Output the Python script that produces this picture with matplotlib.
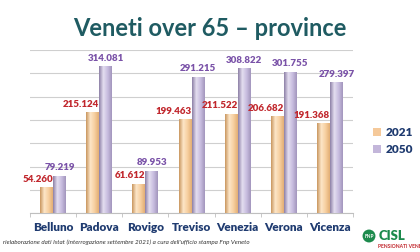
import numpy as np
import matplotlib
matplotlib.use("Agg")
import matplotlib.pyplot as plt
from matplotlib.colors import LinearSegmentedColormap

# ---------------------------------------------------------
# Data
# ---------------------------------------------------------
provinces = ["Belluno", "Padova", "Rovigo", "Treviso", "Venezia", "Verona", "Vicenza"]
v2021 = [54260, 215124, 61612, 199463, 211522, 206682, 191368]
v2050 = [79219, 314081, 89953, 291215, 308822, 301755, 279397]
series_names = ["2021", "2050"]

plt.rcParams["font.family"] = ["Lato", "DejaVu Sans"]

peach = LinearSegmentedColormap.from_list(
    "peach", ["#c9975f", "#fde6c8", "#f7cfa0", "#e2ae74"])
lav = LinearSegmentedColormap.from_list(
    "lav", ["#8d80a6", "#e4def0", "#c8bddf", "#a396bd"])


def fmt(v):
    return f"{v:,.0f}".replace(",", ".")


# ---------------------------------------------------------
# Figure
# ---------------------------------------------------------
fig = plt.figure(figsize=(4.2, 2.52), dpi=100)
ax = fig.add_axes([30 / 420, 1 - 213.3 / 252, 323 / 420, (213.3 - 50) / 252])

x = np.arange(len(provinces))
w = 0.28
grad = np.linspace(0, 1, 64).reshape(1, -1)

b1 = ax.bar(x - w / 2, v2021, w, color="#f5c99a", zorder=2)
b2 = ax.bar(x + w / 2, v2050, w, color="#c3b6da", zorder=2)

# cylinder-like shading
for bars, cmap in [(b1, peach), (b2, lav)]:
    for p in bars:
        x0, y0 = p.get_x(), p.get_y()
        ax.imshow(grad, cmap=cmap, aspect="auto", zorder=3,
                  extent=[x0, x0 + p.get_width(), y0, y0 + p.get_height()])

for i, v in enumerate(v2021):
    ax.annotate(fmt(v), xy=(x[i], v), xytext=(0, 3), textcoords="offset points",
                ha="right", va="bottom", color="#c1272d", fontsize=7,
                fontweight="heavy")
for i, v in enumerate(v2050):
    ax.annotate(fmt(v), xy=(x[i] + w / 2, v), xytext=(0, 3), textcoords="offset points",
                ha="center", va="bottom", color="#7a52a8", fontsize=7,
                fontweight="heavy")

ax.set_xlim(-0.5, len(provinces) - 0.5)
ax.set_ylim(0, 350000)
ax.set_yticks(np.arange(0, 350001, 50000))
ax.yaxis.grid(True, color="#cfcfcf", lw=0.8, zorder=0)
ax.set_axisbelow(True)
ax.tick_params(axis="y", length=0, labelleft=False)

ax.set_xticks(x)
ax.set_xticklabels(provinces, fontsize=8.5, fontweight="heavy", color="#1f3b70")
ax.tick_params(axis="x", length=0, pad=6)
ax.set_xticks(np.arange(-0.5, len(provinces)), minor=True)
ax.tick_params(axis="x", which="minor", length=3, color="#bfbfbf")

for s in ["top", "right", "left"]:
    ax.spines[s].set_visible(False)
ax.spines["bottom"].set_color("#bfbfbf")

leg = ax.legend([b1, b2], series_names, loc="center left",
                bbox_to_anchor=(362 / 420, 1 - 141 / 252), bbox_transform=fig.transFigure,
                frameon=False, handlelength=0.7, handleheight=0.7, handletextpad=0.4,
                labelspacing=0.5, prop={"size": 8.5, "weight": "heavy"})
for t in leg.get_texts():
    t.set_color("#1f3b70")

# ---------------------------------------------------------
# Title, footer, logo
# ---------------------------------------------------------
fig.text(0.499, 1 - 28 / 252, "Veneti over 65 \u2013 province", ha="center", va="center",
         fontsize=17, fontweight="bold", color="#1f5b62")

fig.text(3 / 420, 1 - 242 / 252,
         "rielaborazione dati Istat (interrogazione settembre 2021) a cura dell'ufficio stampa Fnp Veneto",
         ha="left", va="center", fontsize=4.5, style="italic", color="#333333")

fig.text(369 / 420, 1 - 236 / 252, "FNP", ha="center", va="center", fontsize=3.5,
         fontweight="bold", color="white",
         bbox=dict(boxstyle="circle,pad=0.35", fc="#1c8a4c", ec="none"))
fig.text(379 / 420, 1 - 236 / 252, "CISL", ha="left", va="center", fontsize=9.5,
         fontweight="heavy", color="#1c8a4c")
fig.text(378 / 420, 1 - 247 / 252, "PENSIONATI VENETO", ha="left", va="center",
         fontsize=3.6, fontweight="bold", color="#c1272d")

fig.savefig("out.png", dpi=100)
